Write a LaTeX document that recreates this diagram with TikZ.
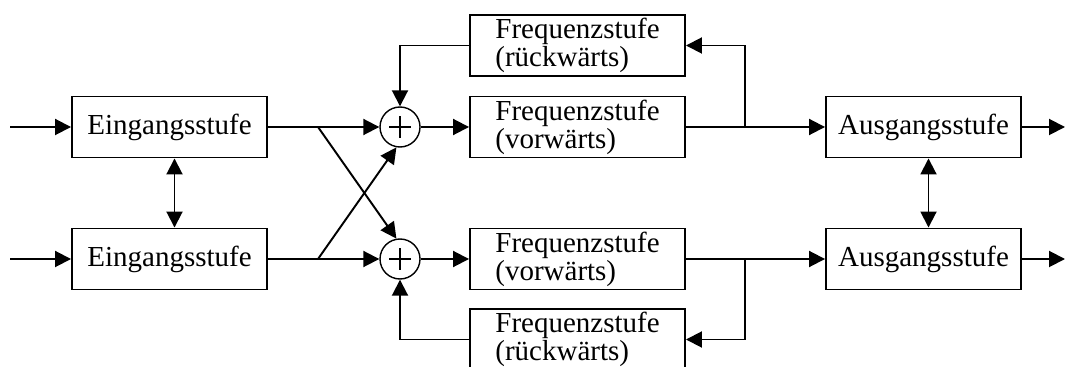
\documentclass[tikz,border=0pt]{standalone}
\usepackage{fontspec}
\setmainfont{Liberation Serif}
\usepackage{tikz}
\usetikzlibrary{positioning,calc,arrows.meta}

\begin{document}
\begin{tikzpicture}[
		font=\fontsize{16.5}{13.5}\selectfont,
		stage/.style={rectangle,draw,line width=1.1pt,minimum width=3.9cm,minimum height=1.22cm,inner sep=0pt},
		freqstage/.style={stage,minimum width=4.3cm,align=left},
		sumnode/.style={circle,draw,line width=0.8pt,minimum size=0.8cm,inner sep=0pt,
			path picture={\draw[line width=0.8pt] ([xshift=-0.22cm]path picture bounding box.center) -- ([xshift=0.22cm]path picture bounding box.center)
				([yshift=-0.22cm]path picture bounding box.center) -- ([yshift=0.22cm]path picture bounding box.center);}},
		sig/.style={line width=1.1pt,-{Triangle[length=0.32cm,width=0.32cm]}},
		bisig/.style={line width=1.1pt,{Triangle[length=0.32cm,width=0.32cm]}-{Triangle[length=0.32cm,width=0.32cm]}},
		wire/.style={line width=1.1pt}]
		
		\useasboundingbox (0,0) rectangle (21.34,-7.34);
		\clip (0,0) rectangle (21.34,-7.34);
		
		% input stages
		\node[stage] (einA) at (3.39,-2.54){Eingangsstufe};
		\node[stage] (einB) at (3.39,-5.18){Eingangsstufe};
		
		% summing points
		\node[sumnode] (sumA) at (8.0,-2.54){};
		\node[sumnode] (sumB) at (8.0,-5.18){};
		
		% frequency stages
		\node[freqstage] (frA) at (11.55,-0.91){Frequenzstufe\\(rückwärts)};
		\node[freqstage] (fvA) at (11.55,-2.54){Frequenzstufe\\(vorwärts)};
		\node[freqstage] (fvB) at (11.55,-5.18){Frequenzstufe\\(vorwärts)};
		\node[freqstage] (frB) at (11.55,-6.79){Frequenzstufe\\(rückwärts)};
		
		% output stages
		\node[stage] (ausA) at (18.47,-2.54){Ausgangsstufe};
		\node[stage] (ausB) at (18.47,-5.18){Ausgangsstufe};
		
		\coordinate (inA) at (0.2,-2.54);
		\coordinate (inB) at (0.2,-5.18);
		\coordinate (outA) at (21.3,-2.54);
		\coordinate (outB) at (21.3,-5.18);
		\coordinate (splitA) at (6.36,-2.54);
		\coordinate (splitB) at (6.36,-5.18);
		\coordinate (splitC) at (14.9,-2.54);
		\coordinate (splitD) at (14.9,-5.18);
		
		\draw[sig] (inA) -- (einA.west);
		\draw[sig] (inB) -- (einB.west);
		\draw[bisig] ([xshift=0.1cm]einA.south) -- ([xshift=0.1cm]einB.north);
		
		\draw[sig] (einA.east) -- (sumA.west);
		\draw[sig] (einB.east) -- (sumB.west);
		\draw[sig] (splitA) -- (sumB.100);
		\draw[sig] (splitB) -- (sumA.260);
		
		\draw[sig] (sumA.east) -- (fvA.west);
		\draw[sig] (sumB.east) -- (fvB.west);
		\draw[sig] (frA.west) -| (sumA.north);
		\draw[sig] (frB.west) -| (sumB.south);
		
		\draw[sig] (fvA.east) -- (ausA.west);
		\draw[sig] (fvB.east) -- (ausB.west);
		\draw[sig] (splitC) |- (frA.east);
		\draw[sig] (splitD) |- (frB.east);
		
		\draw[bisig] ([xshift=0.1cm]ausA.south) -- ([xshift=0.1cm]ausB.north);
		\draw[sig] (ausA.east) -- (outA);
		\draw[sig] (ausB.east) -- (outB);
		
\end{tikzpicture}
\end{document}
